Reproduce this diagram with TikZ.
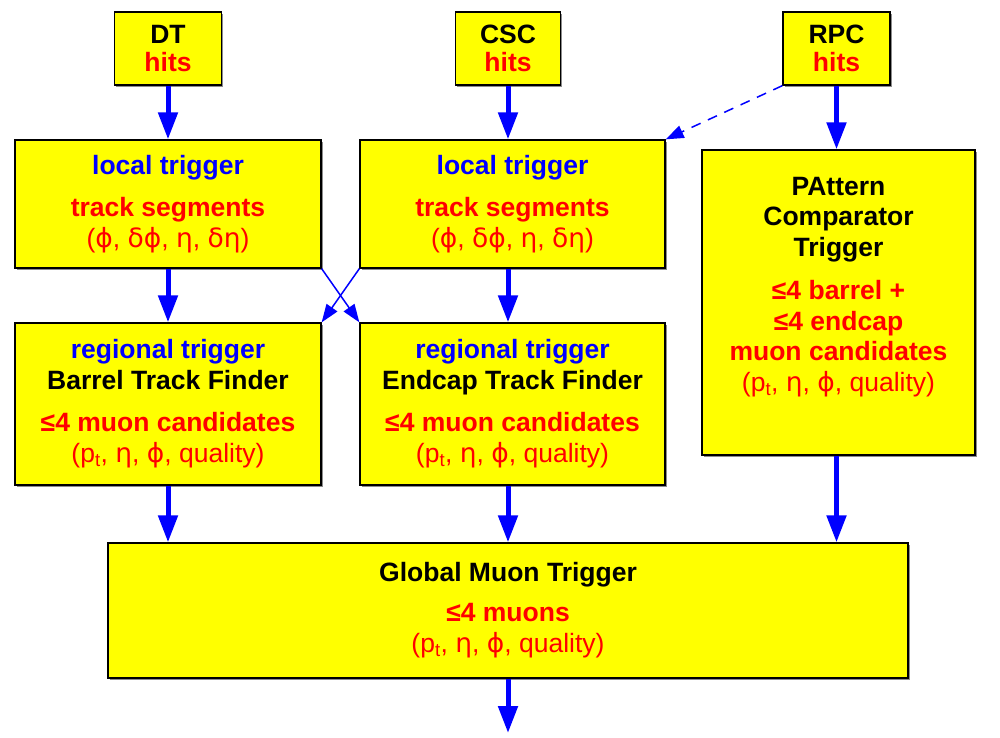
\documentclass[tikz,border=0pt]{standalone}
\usepackage{fontspec}
\setmainfont{Liberation Sans}
\newfontfamily\grk{DejaVu Sans}
\usetikzlibrary{arrows.meta}
\usetikzlibrary{shadows}
\definecolor{boxyellow}{RGB}{255,255,0}
\definecolor{blue}{RGB}{0,0,255}
\definecolor{red}{RGB}{255,0,0}

\newcommand{\segvars}{\mdseries({\grk ϕ}, {\grk δϕ}, {\grk η}, {\grk δη})}
\newcommand{\muvars}{\mdseries(p\textsubscript{t}, {\grk η}, {\grk ϕ}, quality)}

\begin{document}
\begin{tikzpicture}[x=1pt,y=-1pt,
  box/.style={draw=black,line width=1.3pt,fill=boxyellow,align=center,
    font=\bfseries\fontsize{26.5}{31}\selectfont,
    drop shadow={shadow xshift=1.5pt,shadow yshift=-1.5pt,fill=black!45,opacity=1}},
  flow/.style={-{Triangle[width=19pt,length=27pt]},blue,line width=5pt},
  cross/.style={-{Triangle[width=13pt,length=18pt]},blue,line width=1.5pt}]
\useasboundingbox (0,0) rectangle (1000,737);

    % hit sources
    \node[box,minimum width=107pt,minimum height=73pt] (dt) at (168,48.5) {DT\\[-3pt]\textcolor{red}{hits}};
    \node[box,minimum width=105pt,minimum height=73pt] (csc) at (508,48.5) {CSC\\[-3pt]\textcolor{red}{hits}};
    \node[box,minimum width=107pt,minimum height=73pt] (rpc) at (836.5,48.5) {RPC\\[-3pt]\textcolor{red}{hits}};

    % local triggers
    \node[box,minimum width=306pt,minimum height=128pt] (ldt) at (168,204)
        {\textcolor{blue}{local trigger}\\[11pt]\textcolor{red}{track segments}\\\textcolor{red}{\segvars}};
    \node[box,minimum width=305pt,minimum height=128pt] (lcsc) at (512.5,204)
        {\textcolor{blue}{local trigger}\\[11pt]\textcolor{red}{track segments}\\\textcolor{red}{\segvars}};

    % regional triggers
    \node[box,minimum width=306pt,minimum height=162pt] (rdt) at (168,404)
        {\textcolor{blue}{regional trigger}\\Barrel Track Finder\\[11pt]\textcolor{red}{≤4 muon candidates}\\\textcolor{red}{\muvars}};
    \node[box,minimum width=305pt,minimum height=162pt] (rcsc) at (512.5,404)
        {\textcolor{blue}{regional trigger}\\Endcap Track Finder\\[11pt]\textcolor{red}{≤4 muon candidates}\\\textcolor{red}{\muvars}};

    % pattern comparator
    \node[box,minimum width=273pt,minimum height=305pt] (pact) at (838.5,302.5) {};
    \node[align=center,font=\bfseries\fontsize{26.5}{30.5}\selectfont] (pacttxt) at (838.5,287)
        {PAttern\\Comparator\\Trigger\\[13pt]\textcolor{red}{≤4 barrel +}\\\textcolor{red}{≤4 endcap}\\\textcolor{red}{muon candidates}\\\textcolor{red}{\muvars}};

    % global trigger
    \node[box,minimum width=800pt,minimum height=135pt] (gmt) at (508,610.5)
        {Global Muon Trigger\\[9pt]\textcolor{red}{≤4 muons}\\\textcolor{red}{\muvars}};
    \coordinate (out) at (508,733);

    % connectors
    \draw[flow] (dt.south) -- (dt.south |- ldt.north);
    \draw[flow] (csc.south) -- (csc.south |- lcsc.north);
    \draw[flow] (rpc.south) -- (rpc.south |- pact.north);
    \draw[flow] (ldt.south) -- (rdt.north);
    \draw[flow] (csc |- lcsc.south) -- (csc |- rcsc.north);
    \draw[flow] (rdt.south) -- (rdt.south |- gmt.north);
    \draw[flow] (csc |- rcsc.south) -- (csc |- gmt.north);
    \draw[flow] (rpc |- pact.south) -- (rpc |- gmt.north);
    \draw[flow] (gmt.south) -- (out);

    % crossed and dashed connectors
    \draw[cross] (ldt.south east) -- (rcsc.north west);
    \draw[cross] (lcsc.south west) -- (rdt.north east);
    \draw[cross,dash pattern=on 10pt off 8pt] (rpc.south west) -- (lcsc.north east);
\end{tikzpicture}
\end{document}
